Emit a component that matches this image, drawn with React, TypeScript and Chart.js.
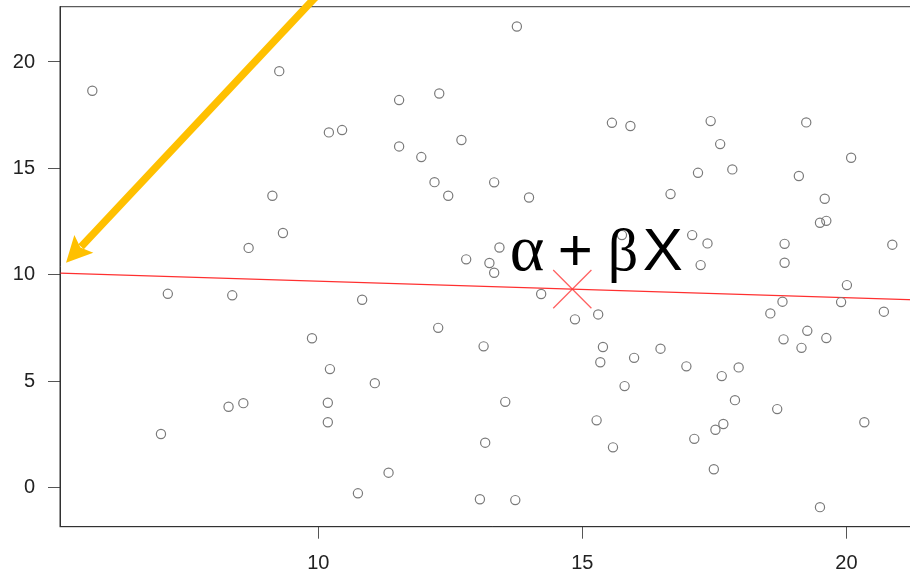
import React, { useEffect, useRef } from "react";
import { Chart, registerables } from "chart.js";

Chart.register(...registerables);

// ---- data ----
const xValues = [
  5.72, 9.26, 9.13, 9.33, 8.68, 13.76, 11.53, 12.29, 10.2, 10.45,
  15.56, 11.53, 11.95, 12.71, 12.2, 12.46, 13.33, 13.99, 13.43, 12.8,
  13.24, 13.33, 15.91, 17.43, 19.24, 17.61, 20.09, 17.19, 17.84, 19.1,
  16.67, 19.59, 19.5, 19.62, 15.75, 17.08, 17.37, 18.83, 20.87, 17.24,
  18.83, 20.01, 7.15, 8.37, 9.88, 8.3, 8.58, 7.02, 14.22, 10.83,
  14.86, 15.3, 12.27, 13.13, 15.39, 15.34, 10.22, 11.07, 10.18, 13.54,
  10.18, 15.27, 13.16, 15.58, 11.33, 10.75, 13.06, 13.73, 15.8, 18.79,
  19.9, 18.56, 20.71, 18.81, 19.26, 19.15, 19.62, 15.98, 16.48, 16.97,
  17.96, 17.64, 17.89, 18.69, 17.52, 17.67, 17.12, 20.34, 17.49, 19.5,
];
const yValues = [
  18.65, 19.57, 13.71, 11.96, 11.26, 21.67, 18.21, 18.52, 16.69, 16.8,
  17.14, 16.03, 15.53, 16.33, 14.35, 13.71, 14.34, 13.63, 11.28, 10.72,
  10.55, 10.09, 16.99, 17.22, 17.16, 16.14, 15.5, 14.79, 14.95, 14.64,
  13.79, 13.57, 12.44, 12.53, 11.86, 11.86, 11.47, 11.45, 11.41, 10.45,
  10.56, 9.51, 9.1, 9.03, 7.01, 3.79, 3.96, 2.51, 9.09, 8.82,
  7.9, 8.13, 7.5, 6.63, 6.6, 5.88, 5.56, 4.9, 3.98, 4.02,
  3.06, 3.15, 2.1, 1.88, 0.69, -0.28, -0.56, -0.6, 4.76, 8.73,
  8.71, 8.18, 8.26, 6.96, 7.36, 6.56, 7.02, 6.09, 6.52, 5.69,
  5.64, 5.23, 4.1, 3.68, 2.71, 2.98, 2.28, 3.06, 0.85, -0.93,
];
const xTicks = [10, 15, 20];
const yTicks = [0, 5, 10, 15, 20];
const xRange = [5.108, 21.47];
const yRange = [-1.85, 22.6];
const meanPoint = { x: 14.81, y: 9.32 };
const intercept = 10.47;
const slope = -0.0778;
const arrowTail = { x: 10.0, y: 23.19 };
const arrowTip = { x: 5.222, y: 10.56 };
const labelAnchor = { x: 13.663, y: 10.22 };
const labelParts = ["α", "+", "β", "X"];

const boxPlugin = {
  id: "boxPlugin",
  afterDatasetsDraw(chart: any) {
    const { ctx, chartArea } = chart;
    ctx.save();
    ctx.strokeStyle = "#333";
    ctx.lineWidth = 1;
    ctx.strokeRect(chartArea.left, chartArea.top, chartArea.right - chartArea.left, chartArea.bottom - chartArea.top);
    // formula text
    const xs = chart.scales.x;
    const ys = chart.scales.y;
    const px = xs.getPixelForValue(labelAnchor.x);
    const py = ys.getPixelForValue(labelAnchor.y);
    const serifA = '66px "Liberation Serif", "DejaVu Serif", serif';
    const serif = '60px "Liberation Serif", "DejaVu Serif", serif';
    const sans = '60px "Liberation Sans", Arial, sans-serif';
    const fonts = [serifA, sans, serif, sans];
    const offsets = [-2, 46, 96, 131];
    ctx.fillStyle = "#000";
    ctx.textAlign = "left";
    ctx.textBaseline = "alphabetic";
    labelParts.forEach((t, i) => {
      ctx.font = fonts[i];
      ctx.fillText(t, px + offsets[i], py);
    });
    ctx.restore();
  },
  afterDraw(chart: any) {
    const { ctx } = chart;
    const xs = chart.scales.x;
    const ys = chart.scales.y;
    const tx = xs.getPixelForValue(arrowTail.x);
    const ty = ys.getPixelForValue(arrowTail.y);
    const hx = xs.getPixelForValue(arrowTip.x);
    const hy = ys.getPixelForValue(arrowTip.y);
    const dx = hx - tx;
    const dy = hy - ty;
    const len = Math.sqrt(dx * dx + dy * dy);
    const ux = dx / len;
    const uy = dy / len;
    const headLen = 26;
    const headHalf = 13;
    const bx = hx - ux * headLen;
    const by = hy - uy * headLen;
    ctx.save();
    ctx.strokeStyle = "#FFC000";
    ctx.fillStyle = "#FFC000";
    ctx.lineWidth = 7.5;
    ctx.lineCap = "butt";
    ctx.beginPath();
    ctx.moveTo(tx, ty);
    ctx.lineTo(bx + ux * 4, by + uy * 4);
    ctx.stroke();
    ctx.beginPath();
    ctx.moveTo(hx, hy);
    ctx.lineTo(bx - uy * headHalf, by + ux * headHalf);
    ctx.lineTo(bx + ux * 5, by + uy * 5);
    ctx.lineTo(bx + uy * headHalf, by - ux * headHalf);
    ctx.closePath();
    ctx.fill();
    ctx.restore();
  },
};

const zeroPad = (s: any) => {
  s.paddingTop = 0;
  s.paddingBottom = 0;
  s.paddingLeft = 0;
  s.paddingRight = 0;
};

export default function App() {
  const ref = useRef<HTMLCanvasElement | null>(null);
  useEffect(() => {
    if (!ref.current) return;
    const points = xValues.map((x, i) => ({ x, y: yValues[i] }));
    const lineData = xRange.map((x) => ({ x, y: intercept + slope * x }));
    const tickFont = { family: '"Liberation Sans", Arial, sans-serif', size: 20 };
    const chart = new Chart(ref.current, {
      type: "scatter",
      data: {
        datasets: [
          {
            data: points,
            pointStyle: "circle",
            pointRadius: 4.6,
            pointBorderWidth: 1.2,
            pointBorderColor: "#7a7a7a",
            pointBackgroundColor: "rgba(0,0,0,0)",
          } as any,
          {
            type: "line",
            data: lineData,
            borderColor: "#ff3030",
            borderWidth: 1.2,
            pointRadius: 0,
            fill: false,
          } as any,
          {
            data: [meanPoint],
            pointStyle: "crossRot",
            pointRadius: 27,
            pointBorderWidth: 1.3,
            pointBorderColor: "rgba(255,70,70,0.85)",
            pointBackgroundColor: "rgba(0,0,0,0)",
          } as any,
        ],
      },
      options: {
        animation: false,
        responsive: false,
        devicePixelRatio: 1,
        layout: { autoPadding: false, padding: { top: 6.7, right: 16, left: 0, bottom: 0 } },
        plugins: { legend: { display: false }, tooltip: { enabled: false } },
        scales: {
          x: {
            type: "linear",
            min: xRange[0],
            max: xRange[1],
            afterBuildTicks: (s: any) => {
              s.ticks = xTicks.map((v) => ({ value: v }));
            },
            afterFit: (s: any) => {
              s.height = 46.3;
              zeroPad(s);
            },
            grid: { display: true, drawOnChartArea: false, drawTicks: true, tickLength: 12, color: "#555", lineWidth: 1 },
            border: { display: true, color: "#333", width: 1 },
            ticks: { font: tickFont, color: "#222", padding: 13, maxRotation: 0, autoSkip: false },
          },
          y: {
            type: "linear",
            min: yRange[0],
            max: yRange[1],
            afterBuildTicks: (s: any) => {
              s.ticks = yTicks.map((v) => ({ value: v }));
            },
            afterFit: (s: any) => {
              s.width = 60;
              zeroPad(s);
            },
            grid: { display: true, drawOnChartArea: false, drawTicks: true, tickLength: 12, color: "#555", lineWidth: 1 },
            border: { display: true, color: "#333", width: 1 },
            ticks: { font: tickFont, color: "#222", padding: 13, autoSkip: false },
          },
        },
      } as any,
      plugins: [boxPlugin],
    });
    return () => chart.destroy();
  }, []);
  return (
    <div style={{ position: "fixed", left: 0, top: 0, width: 910, height: 573, overflow: "hidden", background: "#fff" }}>
      <canvas ref={ref} width={940} height={573} style={{ display: "block" }} />
    </div>
  );
}
